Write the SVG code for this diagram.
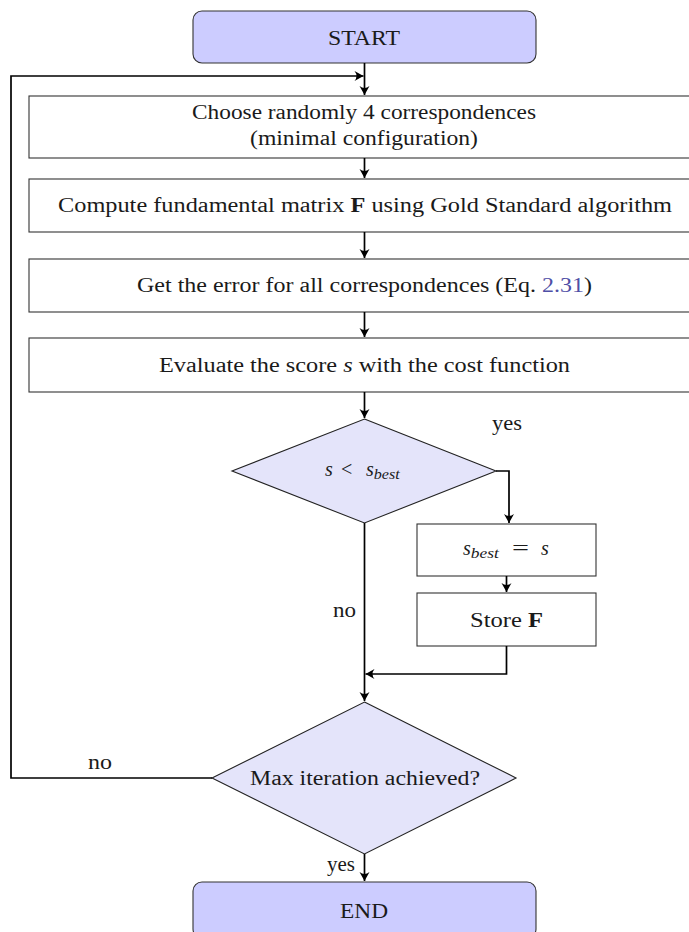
<svg xmlns="http://www.w3.org/2000/svg" width="689" height="932" viewBox="0 0 689 932">
<style>
text{font-family:"Liberation Serif","DejaVu Serif",serif;fill:#1a1a1a;font-size:20px}
.term{fill:#ccccff;stroke:#333;stroke-width:1.1}
.box{fill:#fff;stroke:#333;stroke-width:1.1}
.dec{fill:#e4e4fa;stroke:#222;stroke-width:1.1}
.con{fill:none;stroke:#000;stroke-width:1.7}
.it{font-style:italic}
.sub{font-style:italic;font-size:15px}
</style>
<defs>
<marker id="ah" markerUnits="userSpaceOnUse" markerWidth="12" markerHeight="12" viewBox="-10 -6 12 12" refX="0" refY="0" orient="auto">
<path d="M0,0 L-9,-5 Q-5,0 -9,5 Z" fill="#000"/>
</marker>
</defs>
<rect width="689" height="932" fill="#fff"/>
<g id="start">
<rect class="term" x="193" y="11" width="343" height="52" rx="9"/>
<text x="328" y="45" textLength="72" lengthAdjust="spacingAndGlyphs">START</text>
</g>
<g id="choose">
<rect class="box" x="29" y="96" width="670" height="62"/>
<text x="192" y="119" textLength="344" lengthAdjust="spacingAndGlyphs">Choose randomly 4 correspondences</text>
<text x="250" y="145" textLength="228" lengthAdjust="spacingAndGlyphs">(minimal configuration)</text>
</g>
<g id="compute">
<rect class="box" x="29" y="179" width="670" height="53"/>
<text x="58" y="212" textLength="614" lengthAdjust="spacingAndGlyphs">Compute fundamental matrix <tspan font-weight="bold">F</tspan> using Gold Standard algorithm</text>
</g>
<g id="error">
<rect class="box" x="29" y="259" width="670" height="53"/>
<text x="137" y="292" textLength="455" lengthAdjust="spacingAndGlyphs">Get the error for all correspondences (Eq. <tspan fill="#4f4fa6">2.31</tspan>)</text>
</g>
<g id="evaluate">
<rect class="box" x="29" y="338" width="670" height="54"/>
<text x="159" y="372" textLength="411" lengthAdjust="spacingAndGlyphs">Evaluate the score <tspan class="it">s</tspan> with the cost function</text>
</g>
<g id="dec1">
<polygon class="dec" points="364.5,419 496,471 364.5,523 232,471"/>
<text x="325" y="476" class="it">s</text>
<text x="341" y="476">&lt;</text>
<text x="366" y="476"><tspan class="it">s</tspan><tspan class="sub" dy="3" textLength="26" lengthAdjust="spacingAndGlyphs">best</tspan></text>
</g>
<g id="update">
<rect class="box" x="417" y="524" width="179" height="52"/>
<text x="463" y="555"><tspan class="it">s</tspan><tspan class="sub" dy="3" textLength="28" lengthAdjust="spacingAndGlyphs">best</tspan></text>
<text x="512" y="555" textLength="17" lengthAdjust="spacingAndGlyphs">=</text>
<text x="541" y="555" class="it">s</text>
</g>
<g id="store">
<rect class="box" x="417" y="593" width="179" height="53"/>
<text x="470" y="627" textLength="73" lengthAdjust="spacingAndGlyphs">Store <tspan font-weight="bold">F</tspan></text>
</g>
<g id="dec2">
<polygon class="dec" points="364.5,702 516,778 364.5,854 212,778"/>
<text x="250" y="785" textLength="230" lengthAdjust="spacingAndGlyphs">Max iteration achieved?</text>
</g>
<g id="end">
<rect class="term" x="193" y="882" width="343" height="56" rx="9"/>
<text x="340" y="918" textLength="48" lengthAdjust="spacingAndGlyphs">END</text>
</g>
<g id="connectors">
<path class="con" d="M364.5,63 V95" marker-end="url(#ah)"/>
<path class="con" d="M364.5,158 V178" marker-end="url(#ah)"/>
<path class="con" d="M364.5,232 V258" marker-end="url(#ah)"/>
<path class="con" d="M364.5,312 V337" marker-end="url(#ah)"/>
<path class="con" d="M364.5,392 V418" marker-end="url(#ah)"/>
<path class="con" d="M496,471 H509 V523" marker-end="url(#ah)"/>
<path class="con" d="M506.5,576 V592" marker-end="url(#ah)"/>
<path class="con" d="M506.5,646 V674 H365.5" marker-end="url(#ah)"/>
<path class="con" d="M364.5,523 V701" marker-end="url(#ah)"/>
<path class="con" d="M212,778 H11 V76 H363.5" marker-end="url(#ah)"/>
<path class="con" d="M364.5,854 V881" marker-end="url(#ah)"/>
<text x="492" y="430" textLength="30" lengthAdjust="spacingAndGlyphs">yes</text>
<text x="333" y="617" textLength="23" lengthAdjust="spacingAndGlyphs">no</text>
<text x="88" y="769" textLength="24" lengthAdjust="spacingAndGlyphs">no</text>
<text x="327" y="871" textLength="28" lengthAdjust="spacingAndGlyphs">yes</text>
</g>
</svg>
